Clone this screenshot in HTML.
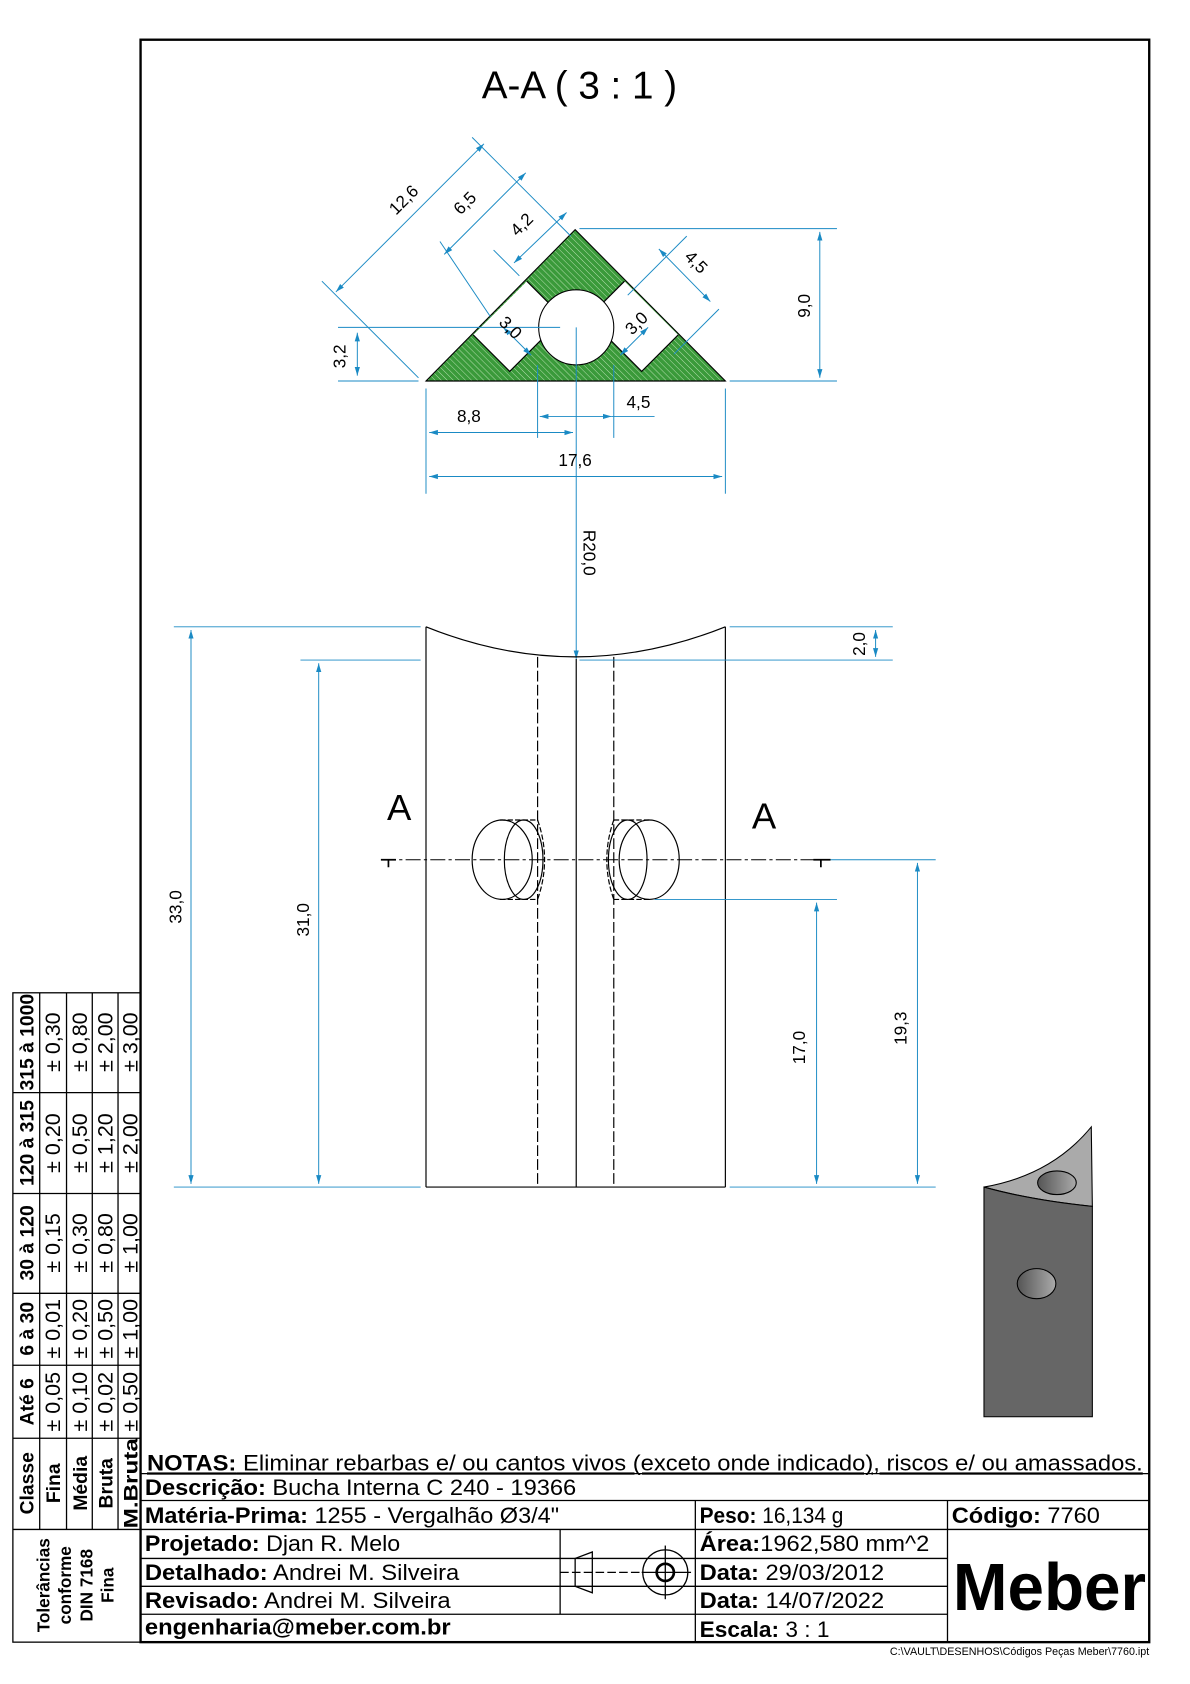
<!DOCTYPE html>
<html><head><meta charset="utf-8"><style>
html,body{margin:0;padding:0;background:#fff}
svg{display:block}
text{font-family:"Liberation Sans",sans-serif}
.d{stroke:#1a8ac4;stroke-width:0.9;fill:none}
.k{stroke:#000;stroke-width:1.1;fill:none}
.dt{fill:#000;font-size:16px}
</style></head><body>
<svg width="1190" height="1684" viewBox="0 0 1109 1569" preserveAspectRatio="none" xmlns="http://www.w3.org/2000/svg">
<defs>
<marker id="a" viewBox="0 0 10 10" refX="10" refY="5" markerWidth="9" markerHeight="9" orient="auto-start-reverse"><path d="M0,2 L10,5 L0,8z" fill="#1a8ac4"/></marker>
<pattern id="h" width="4" height="4" patternUnits="userSpaceOnUse" patternTransform="rotate(-45)"><rect width="4" height="4" fill="#3a9a3a"/><line x1="0" y1="0" x2="0" y2="4" stroke="#c8e8c0" stroke-width="0.8"/></pattern>
<linearGradient id="g1" x1="0" x2="1"><stop offset="0" stop-color="#555"/><stop offset="1" stop-color="#aaa"/></linearGradient>
</defs>
<!-- border -->
<rect x="131" y="37" width="940" height="1493" fill="none" stroke="#000" stroke-width="2.2"/>
<text x="540" y="92" font-size="36" text-anchor="middle">A-A ( 3 : 1 )</text>

<!-- section triangle -->
<path d="M397,355 L536,214 L676,355 Z" fill="url(#h)" stroke="#000" stroke-width="1"/>
<polygon points="441,312 491,262 525,296 475,346" fill="#fff"/>
<polygon points="632,312 582,262 548,296 598,346" fill="#fff"/>
<g class="k">
<polyline points="441,312 475,346 525,296"/><line x1="491" y1="262" x2="525" y2="296"/>
<polyline points="632,312 598,346 548,296"/><line x1="582" y1="262" x2="548" y2="296"/>
<line x1="397" y1="355" x2="676" y2="355"/>
</g>
<circle cx="537" cy="305" r="35" fill="#fff" stroke="#000"/>
<!-- dims top -->
<g class="d">
<line x1="537" y1="305" x2="537" y2="614" marker-end="url(#a)"/>
<line x1="522" y1="305" x2="315" y2="305"/>
<line x1="333" y1="350" x2="333" y2="310" marker-start="url(#a)" marker-end="url(#a)"/>
<line x1="315" y1="355" x2="390" y2="355"/>
<line x1="540" y1="213" x2="780" y2="213"/>
<line x1="680" y1="355" x2="780" y2="355"/>
<line x1="764" y1="216" x2="764" y2="352" marker-start="url(#a)" marker-end="url(#a)"/>
<line x1="397" y1="362" x2="397" y2="460"/><line x1="676" y1="362" x2="676" y2="460"/>
<line x1="400" y1="444" x2="673" y2="444" marker-start="url(#a)" marker-end="url(#a)"/>
<line x1="400" y1="403" x2="534" y2="403" marker-start="url(#a)" marker-end="url(#a)"/>
<line x1="501" y1="340" x2="501" y2="408"/><line x1="572" y1="340" x2="572" y2="408"/>
<line x1="503" y1="388" x2="570" y2="388" marker-start="url(#a)" marker-end="url(#a)"/>
<line x1="570" y1="388" x2="610" y2="388"/>
<line x1="390" y1="352" x2="300" y2="262"/>
<line x1="313" y1="272" x2="451" y2="134" marker-start="url(#a)" marker-end="url(#a)"/>
<line x1="440" y1="128" x2="532" y2="220"/>
<line x1="457" y1="295" x2="410" y2="225"/>
<line x1="414" y1="237" x2="490" y2="161" marker-start="url(#a)" marker-end="url(#a)"/>
<line x1="460" y1="233" x2="484" y2="257"/>
<line x1="479" y1="245" x2="528" y2="198" marker-start="url(#a)" marker-end="url(#a)"/>
<line x1="585" y1="275" x2="640" y2="220"/><line x1="628" y1="330" x2="670" y2="288"/>
<line x1="614" y1="232" x2="662" y2="281" marker-start="url(#a)" marker-end="url(#a)"/>
<line x1="469" y1="305" x2="495" y2="331" marker-start="url(#a)" marker-end="url(#a)"/>
<line x1="604" y1="305" x2="578" y2="331" marker-start="url(#a)" marker-end="url(#a)"/>
</g>
<g class="dt">
<text transform="translate(380,190) rotate(-45)" text-anchor="middle">12,6</text>
<text transform="translate(437,193) rotate(-45)" text-anchor="middle">6,5</text>
<text transform="translate(490,213) rotate(-45)" text-anchor="middle">4,2</text>
<text transform="translate(645,248) rotate(45)" text-anchor="middle">4,5</text>
<text transform="translate(472,309) rotate(45)" text-anchor="middle">3,0</text>
<text transform="translate(597,305) rotate(-45)" text-anchor="middle">3,0</text>
<text transform="translate(322,332) rotate(-90)" text-anchor="middle">3,2</text>
<text transform="translate(755,285) rotate(-90)" text-anchor="middle">9,0</text>
<text x="437" y="393" text-anchor="middle">8,8</text>
<text x="595" y="380" text-anchor="middle">4,5</text>
<text x="536" y="434" text-anchor="middle">17,6</text>
<text transform="translate(544,515) rotate(90)" text-anchor="middle">R20,0</text>
</g>

<!-- front view -->
<g class="k">
<path d="M397,584 Q536,640 676,584"/>
<line x1="397" y1="584" x2="397" y2="1106"/><line x1="676" y1="584" x2="676" y2="1106"/>
<line x1="397" y1="1106" x2="676" y2="1106"/>
<line x1="537" y1="614" x2="537" y2="1106"/>
<line x1="501" y1="612" x2="501" y2="1106" stroke-dasharray="10,3"/>
<line x1="572" y1="612" x2="572" y2="1106" stroke-dasharray="10,3"/>
<line x1="355" y1="801" x2="770" y2="801" stroke-dasharray="14,3,3,3" stroke-width="0.9"/>
<ellipse cx="468" cy="801" rx="28" ry="37"/><ellipse cx="488" cy="801" rx="18" ry="37"/>
<ellipse cx="605" cy="801" rx="28" ry="37"/><ellipse cx="585" cy="801" rx="18" ry="37"/>
<line x1="466" y1="764" x2="501" y2="764" stroke-dasharray="5,2"/><line x1="466" y1="838" x2="501" y2="838" stroke-dasharray="5,2"/>
<line x1="572" y1="764" x2="607" y2="764" stroke-dasharray="5,2"/><line x1="572" y1="838" x2="607" y2="838" stroke-dasharray="5,2"/>
<path d="M501,764 Q514,801 501,838" stroke-dasharray="5,2"/><path d="M572,764 Q559,801 572,838" stroke-dasharray="5,2"/>
<path d="M355,801 h14 M362,801 v7 M758,801 h16 M765,801 v7" stroke-width="1.6"/>
</g>
<text x="372" y="764" font-size="34" text-anchor="middle">A</text>
<text x="712" y="772" font-size="34" text-anchor="middle">A</text>
<g class="d">
<line x1="162" y1="584" x2="392" y2="584"/><line x1="680" y1="584" x2="832" y2="584"/>
<line x1="280" y1="615" x2="392" y2="615"/><line x1="540" y1="615" x2="832" y2="615"/>
<line x1="162" y1="1106" x2="392" y2="1106"/><line x1="680" y1="1106" x2="872" y2="1106"/>
<line x1="178" y1="587" x2="178" y2="1103" marker-start="url(#a)" marker-end="url(#a)"/>
<line x1="297" y1="618" x2="297" y2="1103" marker-start="url(#a)" marker-end="url(#a)"/>
<line x1="816" y1="587" x2="816" y2="612" marker-start="url(#a)" marker-end="url(#a)"/>
<line x1="774" y1="801" x2="872" y2="801"/><line x1="610" y1="838" x2="780" y2="838"/>
<line x1="855" y1="804" x2="855" y2="1103" marker-start="url(#a)" marker-end="url(#a)"/>
<line x1="761" y1="841" x2="761" y2="1103" marker-start="url(#a)" marker-end="url(#a)"/>
</g>
<g class="dt">
<text transform="translate(169,845) rotate(-90)" text-anchor="middle">33,0</text>
<text transform="translate(288,857) rotate(-90)" text-anchor="middle">31,0</text>
<text transform="translate(806,600) rotate(-90)" text-anchor="middle">2,0</text>
<text transform="translate(750,976) rotate(-90)" text-anchor="middle">17,0</text>
<text transform="translate(845,958) rotate(-90)" text-anchor="middle">19,3</text>
</g>

<!-- iso -->
<path d="M917,1106 Q980,1095 1017,1050 L1018,1124 Q960,1118 917,1106Z" fill="#aaa" stroke="#000"/>
<path d="M917,1106 Q960,1118 1018,1124 L1018,1320 L917,1320 Z" fill="#666" stroke="#000"/>
<ellipse cx="985" cy="1102" rx="18" ry="11" fill="url(#g1)" stroke="#000"/>
<ellipse cx="966" cy="1196" rx="18" ry="14" fill="url(#g1)" stroke="#000"/>

<!-- tolerance table -->
<g stroke="#000" stroke-width="1.2" fill="none">
<rect x="12" y="925" width="119" height="605"/>
<line x1="37" y1="925" x2="37" y2="1425"/><line x1="62" y1="925" x2="62" y2="1425"/>
<line x1="86" y1="925" x2="86" y2="1425"/><line x1="110" y1="925" x2="110" y2="1425"/>
<line x1="12" y1="1018" x2="131" y2="1018"/><line x1="12" y1="1112" x2="131" y2="1112"/>
<line x1="12" y1="1205" x2="131" y2="1205"/><line x1="12" y1="1272" x2="131" y2="1272"/>
<line x1="12" y1="1340" x2="131" y2="1340"/><line x1="12" y1="1425" x2="131" y2="1425"/>
</g>
<g font-size="20">
<g font-weight="bold" font-size="18">
<text transform="translate(31,971) rotate(-90)" text-anchor="middle">315 à 1000</text>
<text transform="translate(31,1065) rotate(-90)" text-anchor="middle">120 à 315</text>
<text transform="translate(31,1158) rotate(-90)" text-anchor="middle">30 à 120</text>
<text transform="translate(31,1238) rotate(-90)" text-anchor="middle">6 à 30</text>
<text transform="translate(31,1306) rotate(-90)" text-anchor="middle">Até 6</text>
<text transform="translate(31,1382) rotate(-90)" text-anchor="middle">Classe</text>
<text transform="translate(56,1382) rotate(-90)" text-anchor="middle">Fina</text>
<text transform="translate(81,1382) rotate(-90)" text-anchor="middle">Média</text>
<text transform="translate(105,1382) rotate(-90)" text-anchor="middle">Bruta</text>
<text transform="translate(128,1382) rotate(-90)" text-anchor="middle" textLength="84" lengthAdjust="spacingAndGlyphs">M.Bruta</text>
</g>
<g>
<text transform="translate(56,971) rotate(-90)" text-anchor="middle">± 0,30</text>
<text transform="translate(81,971) rotate(-90)" text-anchor="middle">± 0,80</text>
<text transform="translate(105,971) rotate(-90)" text-anchor="middle">± 2,00</text>
<text transform="translate(128,971) rotate(-90)" text-anchor="middle">± 3,00</text>
<text transform="translate(56,1065) rotate(-90)" text-anchor="middle">± 0,20</text>
<text transform="translate(81,1065) rotate(-90)" text-anchor="middle">± 0,50</text>
<text transform="translate(105,1065) rotate(-90)" text-anchor="middle">± 1,20</text>
<text transform="translate(128,1065) rotate(-90)" text-anchor="middle">± 2,00</text>
<text transform="translate(56,1158) rotate(-90)" text-anchor="middle">± 0,15</text>
<text transform="translate(81,1158) rotate(-90)" text-anchor="middle">± 0,30</text>
<text transform="translate(105,1158) rotate(-90)" text-anchor="middle">± 0,80</text>
<text transform="translate(128,1158) rotate(-90)" text-anchor="middle">± 1,00</text>
<text transform="translate(56,1238) rotate(-90)" text-anchor="middle">± 0,01</text>
<text transform="translate(81,1238) rotate(-90)" text-anchor="middle">± 0,20</text>
<text transform="translate(105,1238) rotate(-90)" text-anchor="middle">± 0,50</text>
<text transform="translate(128,1238) rotate(-90)" text-anchor="middle">± 1,00</text>
<text transform="translate(56,1306) rotate(-90)" text-anchor="middle">± 0,05</text>
<text transform="translate(81,1306) rotate(-90)" text-anchor="middle">± 0,10</text>
<text transform="translate(105,1306) rotate(-90)" text-anchor="middle">± 0,02</text>
<text transform="translate(128,1306) rotate(-90)" text-anchor="middle">± 0,50</text>
</g>
<g font-weight="bold" font-size="16">
<text transform="translate(46,1477) rotate(-90)" text-anchor="middle">Tolerâncias</text>
<text transform="translate(66,1477) rotate(-90)" text-anchor="middle">conforme</text>
<text transform="translate(86,1477) rotate(-90)" text-anchor="middle">DIN 7168</text>
<text transform="translate(106,1477) rotate(-90)" text-anchor="middle">Fina</text>
</g>
</g>

<!-- title block -->
<g stroke="#000" stroke-width="1.2">
<line x1="131" y1="1373" x2="1071" y2="1373"/>
<line x1="131" y1="1398" x2="1071" y2="1398"/>
<line x1="131" y1="1425" x2="1071" y2="1425"/>
<line x1="131" y1="1452" x2="883" y2="1452"/>
<line x1="131" y1="1478" x2="883" y2="1478"/>
<line x1="131" y1="1504" x2="883" y2="1504"/>
<line x1="522" y1="1425" x2="522" y2="1504"/>
<line x1="648" y1="1398" x2="648" y2="1530"/>
<line x1="883" y1="1398" x2="883" y2="1530"/>
</g>
<g font-size="21" lengthAdjust="spacingAndGlyphs">
<text x="137" y="1370" text-decoration="underline" textLength="928" lengthAdjust="spacingAndGlyphs"><tspan font-weight="bold">NOTAS:</tspan> Eliminar rebarbas e/ ou cantos vivos (exceto onde indicado), riscos e/ ou amassados.</text>
<text x="135" y="1393" textLength="402" lengthAdjust="spacingAndGlyphs"><tspan font-weight="bold">Descrição:</tspan> Bucha Interna C 240 - 19366</text>
<text x="135" y="1419" textLength="386" lengthAdjust="spacingAndGlyphs"><tspan font-weight="bold">Matéria-Prima:</tspan> 1255 - Vergalhão Ø3/4"</text>
<text x="652" y="1419" textLength="134" lengthAdjust="spacingAndGlyphs"><tspan font-weight="bold">Peso:</tspan> 16,134 g</text>
<text x="887" y="1419" textLength="138" lengthAdjust="spacingAndGlyphs"><tspan font-weight="bold">Código:</tspan> 7760</text>
<text x="135" y="1445" textLength="238" lengthAdjust="spacingAndGlyphs"><tspan font-weight="bold">Projetado:</tspan> Djan R. Melo</text>
<text x="135" y="1472" textLength="293" lengthAdjust="spacingAndGlyphs"><tspan font-weight="bold">Detalhado:</tspan> Andrei M. Silveira</text>
<text x="135" y="1498" textLength="285" lengthAdjust="spacingAndGlyphs"><tspan font-weight="bold">Revisado:</tspan> Andrei M. Silveira</text>
<text x="135" y="1523" font-weight="bold" textLength="285" lengthAdjust="spacingAndGlyphs">engenharia@meber.com.br</text>
<text x="652" y="1445" textLength="214" lengthAdjust="spacingAndGlyphs"><tspan font-weight="bold">Área:</tspan>1962,580 mm^2</text>
<text x="652" y="1472" textLength="172" lengthAdjust="spacingAndGlyphs"><tspan font-weight="bold">Data:</tspan> 29/03/2012</text>
<text x="652" y="1498" textLength="172" lengthAdjust="spacingAndGlyphs"><tspan font-weight="bold">Data:</tspan> 14/07/2022</text>
<text x="652" y="1525" textLength="121" lengthAdjust="spacingAndGlyphs"><tspan font-weight="bold">Escala:</tspan> 3 : 1</text>
</g>
<text x="888" y="1500" font-size="62" font-weight="bold" textLength="180" lengthAdjust="spacingAndGlyphs">Meber</text>
<!-- projection symbol -->
<g stroke="#000" stroke-width="1.2" fill="none">
<path d="M536,1452 L552,1446 L552,1484 L536,1478 Z"/>
<line x1="522" y1="1465" x2="600" y2="1465" stroke-dasharray="8,3"/>
<circle cx="620" cy="1465" r="21"/><circle cx="620" cy="1465" r="8" stroke-width="2.5"/>
<line x1="598" y1="1465" x2="644" y2="1465"/><line x1="620" y1="1440" x2="620" y2="1490"/>
</g>
<text x="1071" y="1542" font-size="10" text-anchor="end">C:\VAULT\DESENHOS\Códigos Peças Meber\7760.ipt</text>
</svg>
</body></html>
